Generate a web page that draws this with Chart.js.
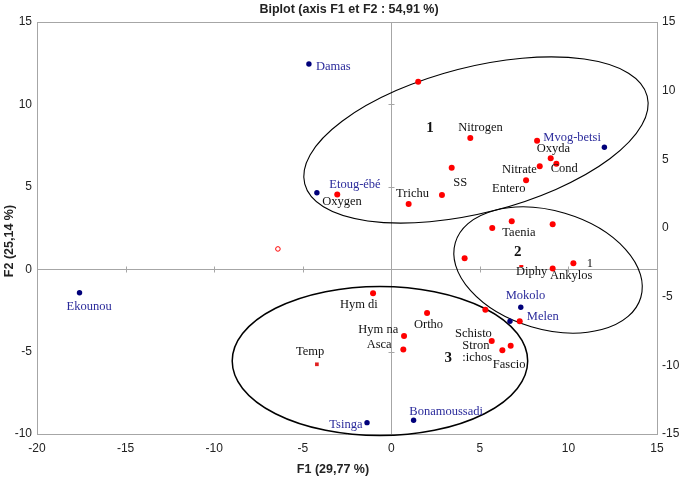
<!DOCTYPE html>
<html><head><meta charset="utf-8">
<script src="https://cdn.jsdelivr.net/npm/chart.js@4/dist/chart.umd.min.js"></script>
<style>html,body{margin:0;padding:0;background:#fff;overflow:hidden}#wrap{width:685px;height:481px}</style>
</head><body><div id="wrap"><canvas id="c" width="685" height="481"></canvas></div>
<script>
// ---- data ----
const titleText = 'Biplot (axis F1 et F2 : 54,91 %)';
const xTitle = 'F1 (29,77 %)';
const yTitle = 'F2 (25,14 %)';
const xTicks = [-20, -15, -10, -5, 0, 5, 10, 15];
const yTicks = [-10, -5, 0, 5, 10, 15];
const y2Ticks = [-15, -10, -5, 0, 5, 10, 15];

// observations (sites)
const obsNames = ['Damas', 'Etoug-ébé', 'Mvog-betsi', 'Ekounou', 'Mokolo', 'Melen', 'Tsinga', 'Bonamoussadi'];
const obsX = [-4.65, -4.20, 12.03, -17.60, 7.31, 6.70, -1.37, 1.26];
const obsY = [12.45, 4.64, 7.40, -1.43, -2.31, -3.16, -9.31, -9.17];

// variables (red dots)
const varX = [1.52, 4.46, 8.23, 9.00, 9.32, 8.38, 7.61, 3.41, 2.86, 0.98, -3.05,
              5.70, 6.80, 9.11, 4.14, 9.11, 10.28,
              -1.03, 2.02, 0.72, 0.68, 5.31, 7.25, 5.67, 6.27, 6.74];
const varY = [11.38, 7.96, 7.80, 6.73, 6.40, 6.24, 5.39, 6.16, 4.50, 3.96, 4.54,
              2.50, 2.91, 2.72, 0.66, 0.05, 0.36,
              -1.46, -2.66, -4.05, -4.88, -2.46, -3.16, -4.36, -4.92, -4.64];
// special variable markers
const hollowX = [-6.40], hollowY = [1.23];
const tempX = [-4.20], tempY = [-5.77];
const dashX = [7.34], dashY = [0.19];

// variable label texts
const varLabels = ['Nitrogen', 'Oxyda', 'Cond', 'Nitrate', 'Entero', 'SS', 'Trichu', 'Oxygen',
                   'Taenia', 'Diphy', 'Ankylos', '1', 'Hym di', 'Hym na', 'Asca', 'Ortho',
                   'Schisto', 'Stron', ':ichos', 'Fascio', 'Temp'];
const clusterLabels = ['1', '2', '3'];

// ---- layout of annotations (positions in data units) ----
const obsLabelPos = [[-4.25, 12.29], [-3.50, 5.11], [8.58, 8.00], [-18.33, -2.28],
                     [6.46, -1.63], [7.65, -2.88], [-3.50, -9.41], [1.02, -8.65]];
const varLabelPos = [[3.78, 8.61], [8.21, 7.34], [9.00, 6.12], [6.25, 6.02], [5.69, 4.91],
                     [3.50, 5.25], [0.27, 4.61], [-3.90, 4.10], [6.27, 2.22], [7.04, -0.15],
                     [8.96, -0.41], [11.03, 0.32], [-2.90, -2.17], [-1.86, -3.65], [-1.39, -4.60],
                     [1.28, -3.39], [3.60, -3.93], [4.01, -4.64], [4.01, -5.40], [5.73, -5.77],
                     [-5.38, -5.00]];
const clusterPos = [[2.19, 8.55], [7.14, 1.06], [3.22, -5.41]];
// ellipses: cx, cy (data), semi-axes (in x units), rotation (deg on screen)
const ellipses = [
  {cx: 4.78, cy: 7.84, a: 9.98, b: 4.11, rot: -14.4, w: 1.1},
  {cx: 8.85, cy: -0.05, a: 5.46, b: 3.34, rot: 16.5, w: 1.1},
  {cx: -0.64, cy: -5.57, a: 8.34, b: 4.21, rot: 0, w: 1.5}
];

const pts = (xs, ys) => xs.map((x, i) => ({x: x, y: ys[i]}));

const decor = {
  id: 'decor',
  beforeDatasetsDraw(chart) {
    const {ctx, chartArea: ca, scales: {x, y}} = chart;
    ctx.save();
    ctx.strokeStyle = '#a6a6a6';
    ctx.lineWidth = 1;
    // top border
    ctx.beginPath();
    ctx.moveTo(ca.left, ca.top + 0.5); ctx.lineTo(ca.right, ca.top + 0.5);
    ctx.stroke();
    // zero lines with tick marks
    const y0 = Math.round(y.getPixelForValue(0)) + 0.5;
    const x0 = Math.round(x.getPixelForValue(0)) + 0.5;
    ctx.beginPath();
    ctx.moveTo(ca.left, y0); ctx.lineTo(ca.right, y0);
    ctx.moveTo(x0, ca.top); ctx.lineTo(x0, ca.bottom);
    xTicks.forEach(v => { const px = Math.round(x.getPixelForValue(v)) + 0.5; ctx.moveTo(px, y0 - 3); ctx.lineTo(px, y0 + 3); });
    yTicks.forEach(v => { const py = Math.round(y.getPixelForValue(v)) + 0.5; ctx.moveTo(x0 - 3, py); ctx.lineTo(x0 + 3, py); });
    ctx.stroke();
    // ellipses
    const ppu = Math.abs(x.getPixelForValue(1) - x.getPixelForValue(0));
    ctx.strokeStyle = '#000';
    ellipses.forEach(e => {
      ctx.lineWidth = e.w;
      ctx.beginPath();
      ctx.ellipse(x.getPixelForValue(e.cx), y.getPixelForValue(e.cy), e.a * ppu, e.b * ppu, e.rot * Math.PI / 180, 0, Math.PI * 2);
      ctx.stroke();
    });
    ctx.restore();
  },
  afterDatasetsDraw(chart) {
    const {ctx, scales: {x, y}} = chart;
    ctx.save();
    ctx.textBaseline = 'middle';
    ctx.textAlign = 'left';
    ctx.font = '12.5px "Liberation Serif", "Times New Roman", serif';
    ctx.fillStyle = '#2b2b9b';
    obsNames.forEach((n, i) => ctx.fillText(n, x.getPixelForValue(obsLabelPos[i][0]), y.getPixelForValue(obsLabelPos[i][1])));
    ctx.fillStyle = '#111';
    varLabels.forEach((n, i) => ctx.fillText(n, x.getPixelForValue(varLabelPos[i][0]), y.getPixelForValue(varLabelPos[i][1])));
    ctx.font = 'bold 15px "Liberation Serif", "Times New Roman", serif';
    ctx.textAlign = 'center';
    clusterLabels.forEach((n, i) => ctx.fillText(n, x.getPixelForValue(clusterPos[i][0]), y.getPixelForValue(clusterPos[i][1])));
    // titles
    ctx.fillStyle = '#222';
    ctx.font = 'bold 12.5px "Liberation Sans", Arial, sans-serif';
    ctx.fillText(titleText, 349, 10);
    ctx.fillText(xTitle, 333, 470);
    ctx.translate(10, 241);
    ctx.rotate(-Math.PI / 2);
    ctx.fillText(yTitle, 0, 0);
    ctx.restore();
  }
};

const tickFont = {family: '"Liberation Sans", Arial, sans-serif', size: 12};
const tickColor = '#222';
const borderCol = '#a6a6a6';

new Chart(document.getElementById('c'), {
  type: 'scatter',
  data: {
    datasets: [
      {data: pts(obsX, obsY), backgroundColor: '#00007a', borderColor: '#00007a', pointRadius: 2.7, borderWidth: 0},
      {data: pts(varX, varY), backgroundColor: '#ff0000', borderColor: '#ff0000', pointRadius: 3, borderWidth: 0},
      {data: pts(hollowX, hollowY), backgroundColor: '#fff', borderColor: '#ff0000', pointRadius: 2.3, borderWidth: 1},
      {data: pts(tempX, tempY), backgroundColor: '#e02020', borderColor: '#e02020', pointStyle: 'rect', pointRadius: 2.6, borderWidth: 0},
      {data: pts(dashX, dashY), backgroundColor: '#ff0000', borderColor: '#ff0000', pointStyle: 'line', pointRadius: 2, borderWidth: 2}
    ]
  },
  options: {
    responsive: false,
    animation: false,
    devicePixelRatio: 1,
    layout: {padding: {top: 22, left: 0, right: 0, bottom: 0}},
    plugins: {legend: {display: false}, tooltip: {enabled: false}, title: {display: false}},
    scales: {
      x: {
        type: 'linear', position: 'bottom', min: -20, max: 15,
        afterBuildTicks: s => { s.ticks = xTicks.map(v => ({value: v})); },
        ticks: {font: tickFont, color: tickColor, padding: 7, maxRotation: 0},
        grid: {display: false, drawTicks: false, tickLength: 0},
        border: {display: true, color: borderCol, width: 1},
        afterFit: s => { s.height = 47; }
      },
      y: {
        type: 'linear', position: 'left', min: -10, max: 15,
        afterBuildTicks: s => { s.ticks = yTicks.map(v => ({value: v})); },
        ticks: {font: tickFont, color: tickColor, padding: 5},
        grid: {display: false, drawTicks: false, tickLength: 0},
        border: {display: true, color: borderCol, width: 1},
        afterFit: s => { s.width = 37; }
      },
      y2: {
        type: 'linear', position: 'right', min: -15, max: 15,
        afterBuildTicks: s => { s.ticks = y2Ticks.map(v => ({value: v})); },
        ticks: {font: tickFont, color: tickColor, padding: 5},
        grid: {display: false, drawTicks: false, tickLength: 0},
        border: {display: true, color: borderCol, width: 1},
        afterFit: s => { s.width = 28; }
      }
    }
  },
  plugins: [decor]
});
</script>
</body></html>
